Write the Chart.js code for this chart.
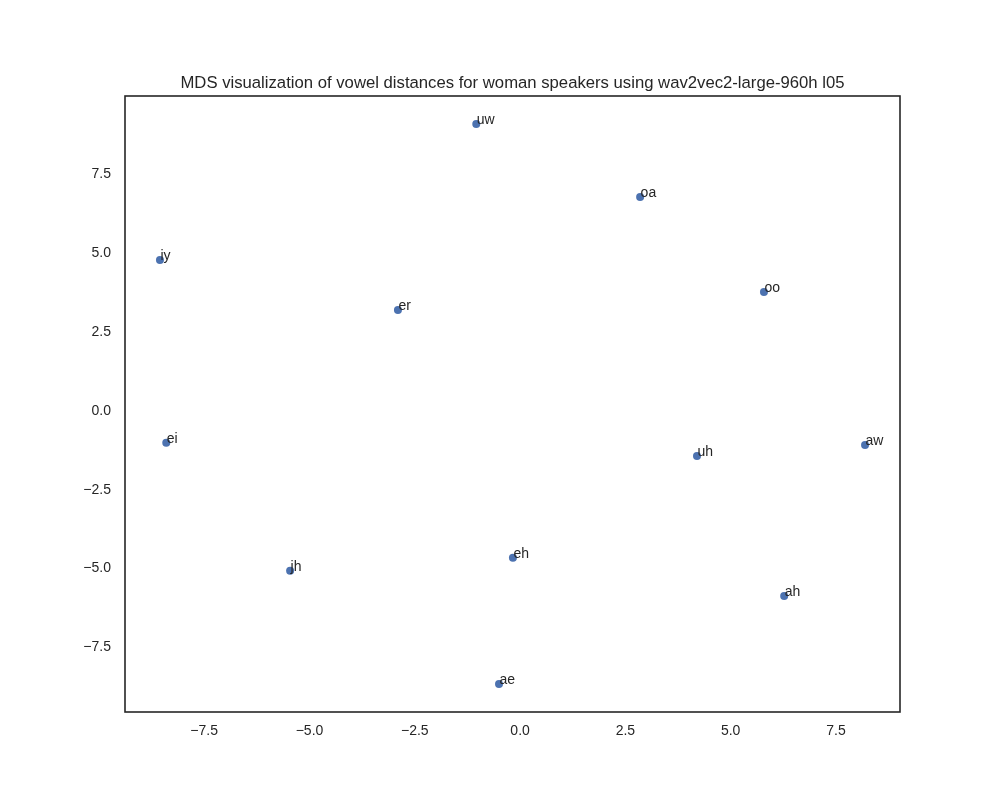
<!DOCTYPE html>
<html>
<head>
<meta charset="utf-8">
<script src="https://cdn.jsdelivr.net/npm/chart.js@4/dist/chart.umd.min.js"></script>
<style>
  html, body { margin: 0; padding: 0; background: #fff; }
  #wrap { width: 1000px; height: 800px; }
</style>
</head>
<body>
<div id="wrap"><canvas id="mds" width="1000" height="800"></canvas></div>
<script>
// vowel labels and their MDS coordinates
const vowels = ['uw', 'oa', 'iy', 'er', 'oo', 'ei', 'uh', 'aw', 'jh', 'eh', 'ah', 'ae'];
const xs = [-1.04, 2.85, -8.55, -2.90, 5.79, -8.40, 4.20, 8.19, -5.46, -0.17, 6.27, -0.50];
const ys = [9.10, 6.79, 4.79, 3.20, 3.77, -1.01, -1.43, -1.08, -5.07, -4.66, -5.87, -8.66];
const xLimits = [-9.38, 9.02];
const yLimits = [-9.55, 9.99];
const titleText = 'MDS visualization of vowel distances for woman speakers using wav2vec2-large-960h l05';

const textColor = '#262626';
const font = '"Liberation Sans", Arial, sans-serif';

const fmt = v => v.toFixed(1).replace('-', '\u2212');

// box around the plot, title over the plot area, vowel names next to points
const framePlugin = {
    id: 'frame',
    afterDatasetsDraw(chart) {
        const { ctx, chartArea: a, scales } = chart;
        ctx.save();
        ctx.fillStyle = textColor;
        ctx.font = '14px ' + font;
        ctx.textAlign = 'left';
        ctx.textBaseline = 'alphabetic';
        vowels.forEach((v, i) => {
            const px = scales.x.getPixelForValue(xs[i]);
            const py = scales.y.getPixelForValue(ys[i]);
            ctx.fillText(v, px + 0.5, py);
        });

        ctx.font = '16.7px ' + font;
        ctx.textAlign = 'center';
        ctx.textBaseline = 'middle';
        ctx.fillText(titleText, (a.left + a.right) / 2, a.top - 13);

        ctx.strokeStyle = textColor;
        ctx.lineWidth = 1.6;
        ctx.strokeRect(a.left, a.top, a.right - a.left, a.bottom - a.top);
        ctx.restore();
    }
};

new Chart(document.getElementById('mds'), {
    type: 'scatter',
    data: {
        datasets: [{
            data: xs.map((x, i) => ({ x: x, y: ys[i] })),
            backgroundColor: '#4c72b0',
            borderWidth: 0,
            pointRadius: 4,
            pointHoverRadius: 4
        }]
    },
    options: {
        responsive: false,
        animation: false,
        layout: { padding: { left: 0, right: 100, top: 96, bottom: 0 } },
        plugins: {
            legend: { display: false },
            tooltip: { enabled: false },
            title: { display: false }
        },
        scales: {
            x: {
                type: 'linear',
                min: xLimits[0],
                max: xLimits[1],
                grid: { display: false, drawTicks: false },
                border: { display: false },
                ticks: {
                    stepSize: 2.5,
                    includeBounds: false,
                    padding: 11,
                    color: textColor,
                    font: { family: font, size: 14 },
                    maxRotation: 0,
                    callback: v => fmt(v)
                },
                afterFit: s => { s.height = 88; }
            },
            y: {
                type: 'linear',
                min: yLimits[0],
                max: yLimits[1],
                grid: { display: false, drawTicks: false },
                border: { display: false },
                ticks: {
                    stepSize: 2.5,
                    includeBounds: false,
                    padding: 14,
                    color: textColor,
                    font: { family: font, size: 14 },
                    callback: v => fmt(v)
                },
                afterFit: s => { s.width = 125; }
            }
        }
    },
    plugins: [framePlugin]
});
</script>
</body>
</html>
